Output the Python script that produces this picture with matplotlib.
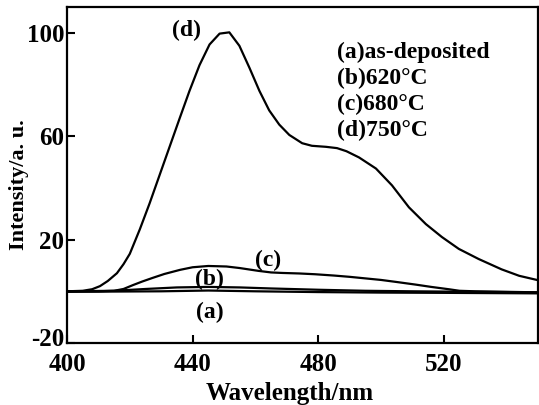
import matplotlib.pyplot as plt
from matplotlib.transforms import ScaledTranslation

# wavelength (nm) / intensity (a.u.)
wl_a = [400, 415, 430, 445, 460, 480, 500, 520, 535, 550]
int_a = [-0.2, -0.1, 0.0, 0.3, 0.0, -0.3, -0.5, -0.6, -0.7, -0.8]

wl_b = [400, 415, 425, 435, 445, 455, 465, 480, 495, 510, 530, 550]
int_b = [0.0, 0.2, 0.9, 1.5, 1.7, 1.5, 1.1, 0.6, 0.2, 0.0, -0.2, -0.4]

wl_c = [400, 410, 415, 418, 421, 424, 427.3, 431, 436, 440, 445, 450.8, 455, 461,
        465, 468.6, 474, 479, 485, 490, 495, 500, 505, 511, 516, 521.6, 525, 530, 540, 550]
int_c = [0.0, 0.0, 0.2, 0.9, 2.4, 3.8, 5.2, 6.7, 8.3, 9.3, 9.8, 9.6, 9.0, 7.9,
         7.3, 7.1, 6.9, 6.6, 6.1, 5.6, 5.0, 4.4, 3.6, 2.6, 1.7, 0.8, 0.2, 0.0, -0.2, -0.4]

wl_d = [400, 405, 408, 410.5, 413, 415.9, 418, 420, 423.2, 426.3, 429.5, 432.7, 435.9, 439,
        442.2, 445.4, 448.6, 451.7, 454.9, 458.1, 461.3, 464.4, 467.6, 470.8, 474.9, 478,
        482.5, 486, 489, 493, 498.4, 503.5, 508.9, 514.3, 519.4, 524.8, 531.1, 538.4, 544, 550]
int_d = [0.0, 0.2, 0.8, 2.0, 4.0, 7.0, 10.5, 14.5, 24.0, 34.0, 45.0, 56.0, 67.0, 77.5,
         87.5, 95.5, 99.7, 100.2, 95.0, 86.5, 77.5, 70.0, 64.5, 60.5, 57.3, 56.3,
         55.9, 55.4, 54.2, 51.8, 47.5, 41.0, 32.5, 26.0, 21.0, 16.4, 12.5, 8.5, 6.0, 4.3]

legend_lines = ['(a)as-deposited', '(b)620°C', '(c)680°C', '(d)750°C']
x_ticks = [400, 440, 480, 520]
y_ticks = [-20, 20, 60, 100]
y_tick_labels = ['-20', '20', '60', '100']

plt.rcParams['font.family'] = ['Liberation Serif', 'DejaVu Serif']
plt.rcParams['font.weight'] = 'bold'

fig = plt.figure(figsize=(5.39, 4.05), dpi=100)
ax = fig.add_axes([0.1243, 0.1531, 0.8738, 0.8296])

for wl, inten in [(wl_a, int_a), (wl_b, int_b), (wl_c, int_c), (wl_d, int_d)]:
    ax.plot(wl, inten, color='black', lw=1.6)

ax.set_xlim(400, 550)
ax.set_ylim(-20, 110)
ax.set_xticks(x_ticks)
ax.set_yticks(y_ticks)
ax.set_yticklabels(y_tick_labels)
ax.tick_params(direction='in', length=6, width=1.5, labelsize=18)
ax.tick_params(axis='x', pad=7)
ax.tick_params(axis='y', pad=2)
for s in ax.spines.values():
    s.set_linewidth(1.6)

# nudge the bottom "-20" up a little so it clears the "400"
lbl = ax.get_yticklabels()[0]
lbl.set_transform(lbl.get_transform() + ScaledTranslation(0, 4 / 72, fig.dpi_scale_trans))

ax.set_xlabel('Wavelength/nm', fontsize=18, fontweight='bold')
ax.set_ylabel('Intensity/a. u.', fontsize=16, fontweight='bold')
ax.xaxis.set_label_coords(0.473, -0.115)
ax.yaxis.set_label_coords(-0.08, 0.47)

# curve labels
ax.text(438, 101, '(d)', fontsize=17, ha='center', va='center')
ax.text(464, 12, '(c)', fontsize=17, ha='center', va='center')
ax.text(445.4, 4.5, '(b)', fontsize=17, ha='center', va='center')
ax.text(445.4, -8, '(a)', fontsize=17, ha='center', va='center')

for i, txt in enumerate(legend_lines):
    ax.text(0.573, 0.866 - i * 0.078, txt, fontsize=17, transform=ax.transAxes,
            ha='left', va='center')

plt.savefig('out.png', dpi=100)
